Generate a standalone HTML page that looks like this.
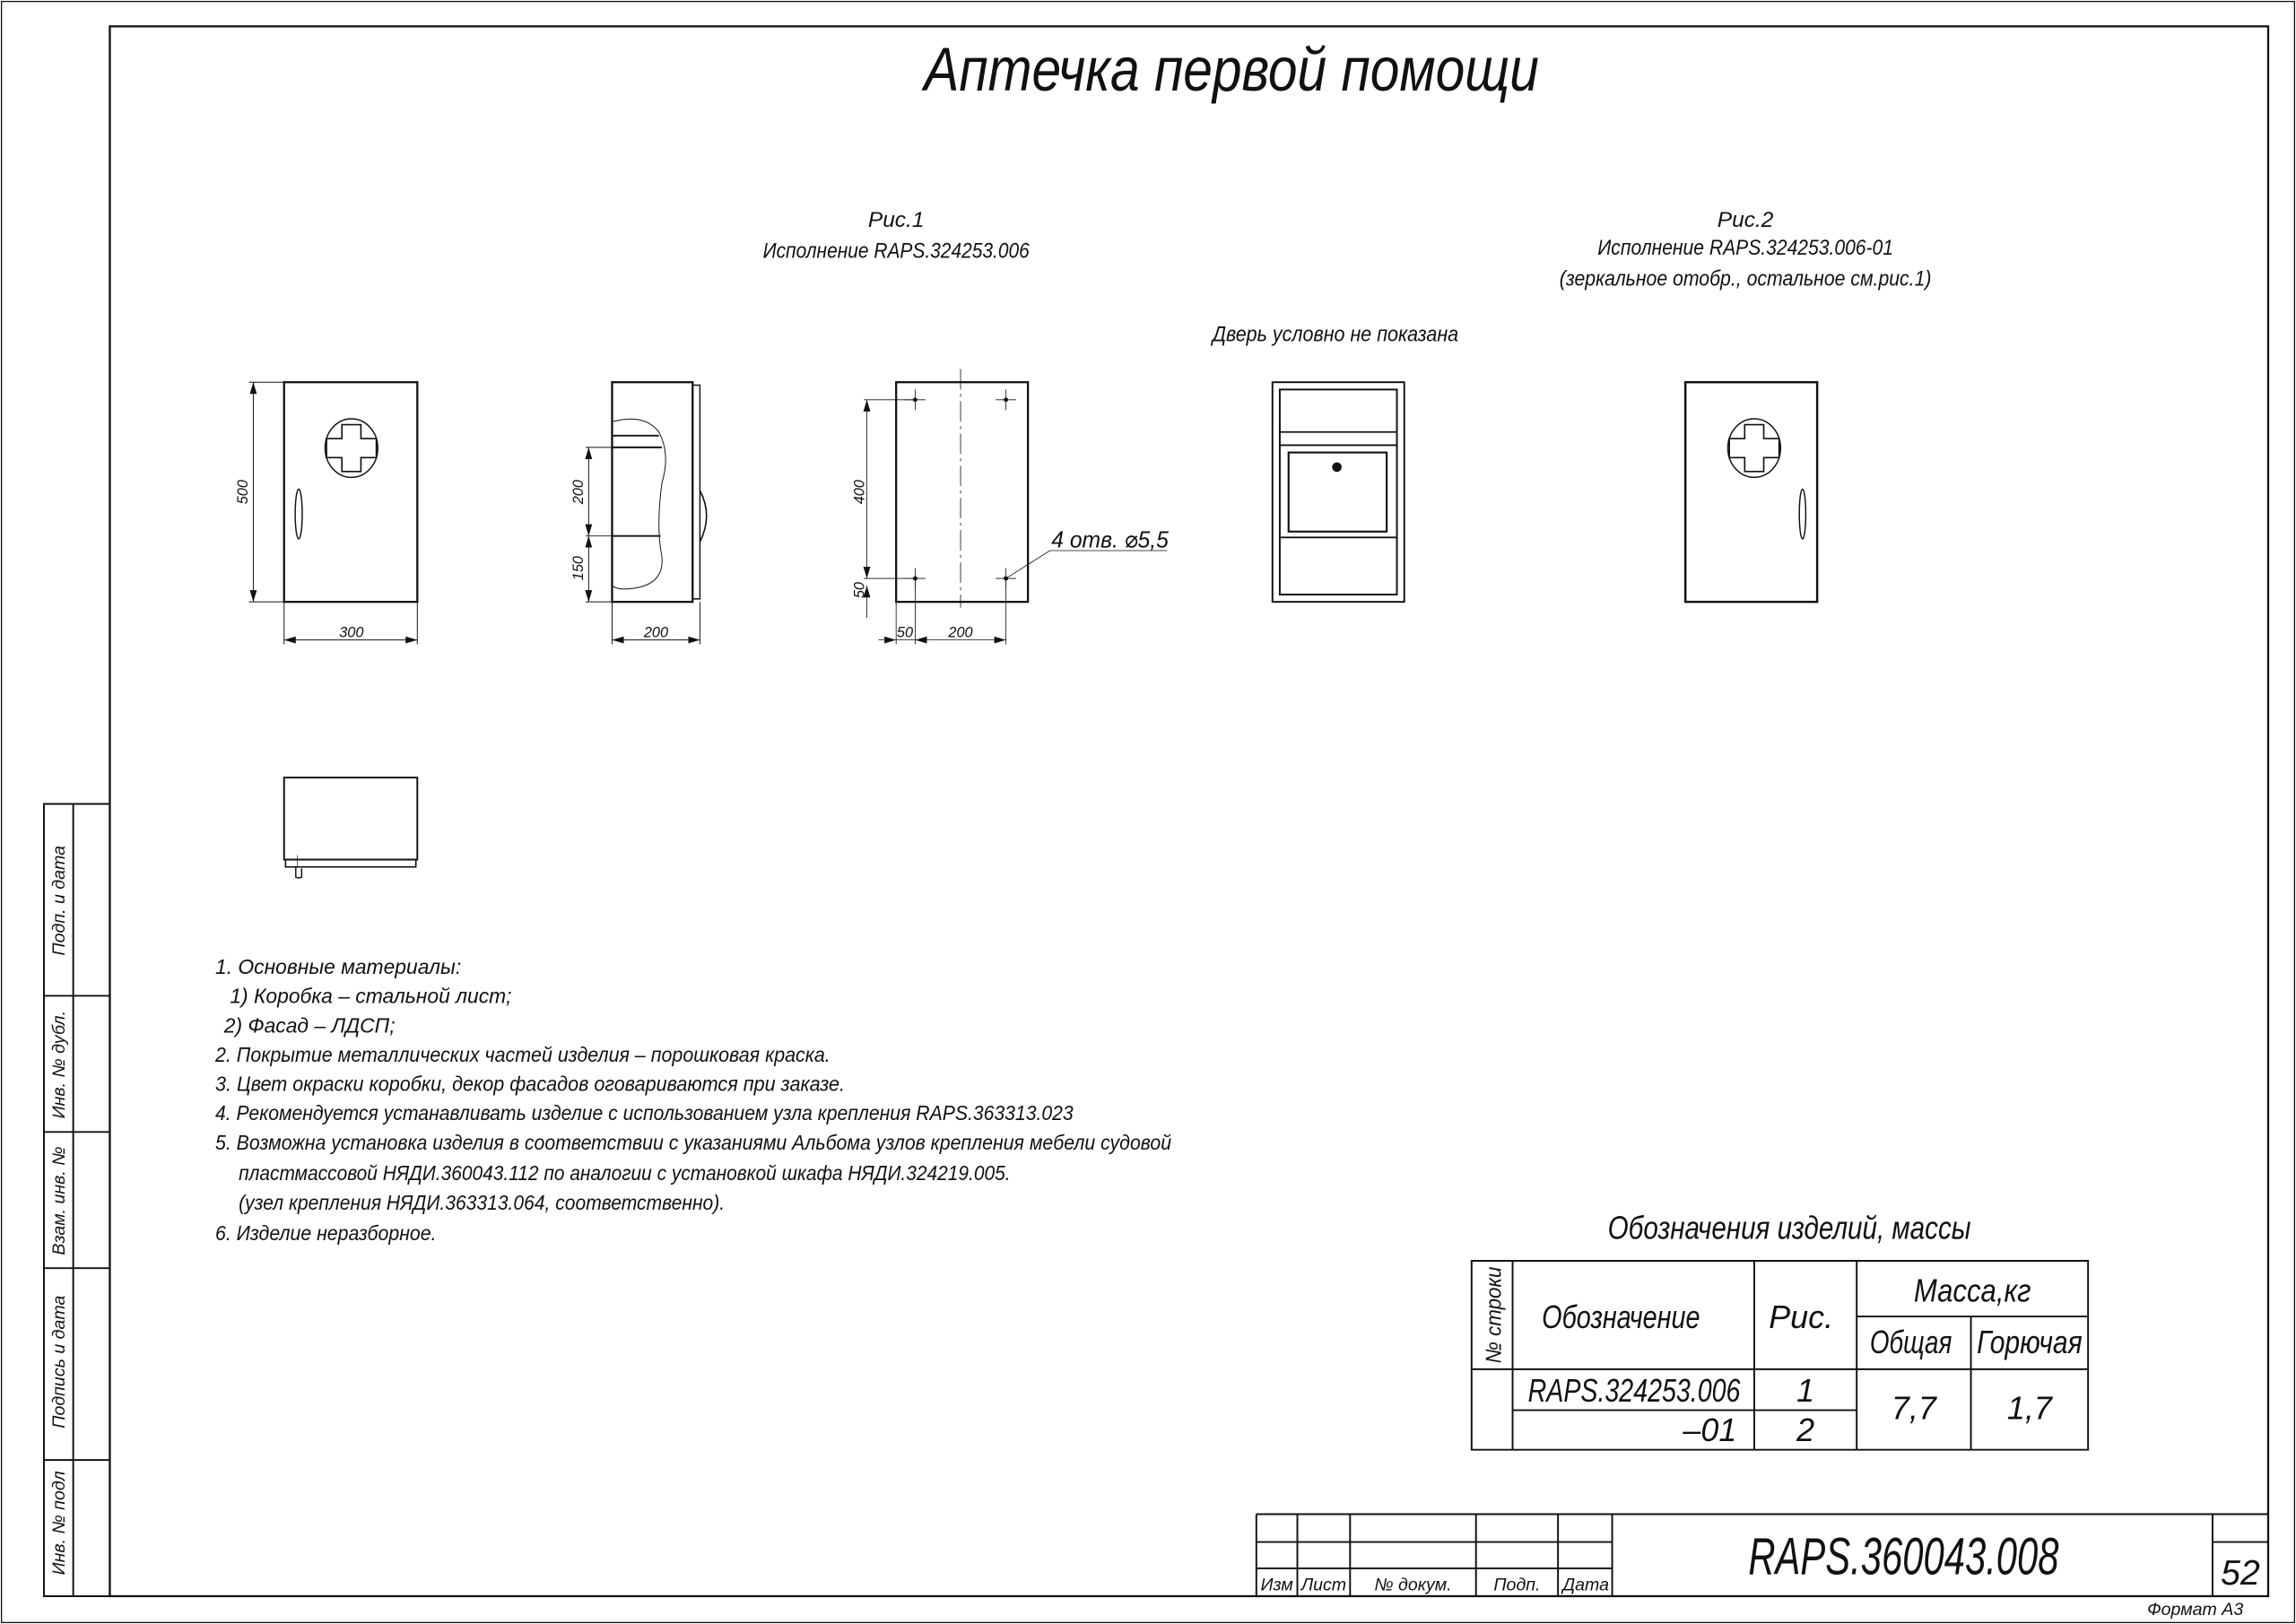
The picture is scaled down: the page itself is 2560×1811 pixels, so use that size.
<!DOCTYPE html>
<html><head><meta charset="utf-8"><style>
html,body{margin:0;padding:0;background:#fff;}
svg{display:block;}
text{font-family:"Liberation Sans Narrow","Liberation Sans","DejaVu Sans",sans-serif;font-style:italic;fill:#111;}
</style></head><body>
<svg width="2560" height="1811" viewBox="0 0 1568 1109" preserveAspectRatio="none" xmlns="http://www.w3.org/2000/svg">
<defs>
<marker id="a" viewBox="0 0 10 6" refX="10" refY="3" markerWidth="8" markerHeight="5" orient="auto-start-reverse" markerUnits="userSpaceOnUse"><path d="M0,0L10,3L0,6z" fill="#111"/></marker>
</defs>
<g fill="none" stroke="#111">
<rect x="1" y="1" width="1566" height="1107" stroke-width="0.8"/>
<rect x="75" y="18" width="1474" height="1072" stroke-width="1.4"/>
<path d="M30 549H75V1090H30Z M50 549V1090 M30 680H75 M30 773H75 M30 866H75 M30 997H75" stroke-width="1.2"/>
<path d="M858 1034H1549 M858 1034V1090 M886 1034V1090 M922 1034V1090 M1008 1034V1090 M1064 1034V1090 M1101 1034V1090 M1511 1034V1090 M1511 1053H1549 M858 1053H1101 M858 1071H1101" stroke-width="1.2"/>
<path d="M1005 861H1426V990H1005Z M1033 861V990 M1198 861V990 M1268 861V990 M1346 899V990 M1268 899H1426 M1005 935H1426 M1033 963H1268" stroke-width="1.2"/>

<rect x="194" y="261" width="91" height="150" stroke-width="1.4"/>
<ellipse cx="240" cy="306" rx="18" ry="20" stroke-width="0.9"/>
<path d="M233.5 290H246.5V299.5H257V312.5H246.5V322H233.5V312.5H223V299.5H233.5Z" stroke-width="1"/>
<ellipse cx="204" cy="351" rx="2.4" ry="17" stroke-width="0.9"/>
<g stroke-width="0.6">
<path d="M194 261H170 M194 411H170 M194 411V440 M285 411V440"/>
<path d="M173 261V411" marker-start="url(#a)" marker-end="url(#a)"/>
<path d="M194 437H285" marker-start="url(#a)" marker-end="url(#a)"/>
</g>

<rect x="418" y="261" width="55" height="150" stroke-width="1.4"/>
<path d="M473 263H478V409H473" stroke-width="0.9"/>
<path d="M478 335Q487 352 478 370" stroke-width="1"/>
<path d="M418 288Q440 282 450 295Q458 310 452 330Q448 360 452 380Q454 400 430 402Q422 403 418 400" stroke-width="0.6"/>
<path d="M418 297.5H450 M418 305.5H452 M418 366H451" stroke-width="1.2"/>
<g stroke-width="0.6">
<path d="M418 305.5H400 M418 366H400 M418 411H400 M418 411V440 M478 411V440"/>
<path d="M402 305.5V366" marker-start="url(#a)" marker-end="url(#a)"/>
<path d="M402 366V411" marker-start="url(#a)" marker-end="url(#a)"/>
<path d="M418 437H478" marker-start="url(#a)" marker-end="url(#a)"/>
</g>

<rect x="612" y="261" width="90" height="150" stroke-width="1.4"/>
<path d="M656 252V415" stroke-width="0.5" stroke-dasharray="14 3 2 3"/>
<g stroke-width="0.5">
<path d="M618 273H632 M625 266V280 M680 273H694 M687 266V280 M618 395H632 M625 388V402 M680 395H694 M687 388V402"/>
<path d="M625 273H590 M625 395H590 M612 411V440 M625 395V440 M687 395V440"/>
<path d="M592 273V395" marker-start="url(#a)" marker-end="url(#a)"/>
<path d="M592 411V400" marker-end="url(#a)"/>
<path d="M592 422V411"/>
<path d="M600 437H612" marker-end="url(#a)"/>
<path d="M625 437H687" marker-start="url(#a)" marker-end="url(#a)"/>
<path d="M612 437H625"/>
<path d="M687 395L717 376H797"/>
</g>
<g fill="#111" stroke="none"><circle cx="625" cy="273" r="1.5"/><circle cx="687" cy="273" r="1.5"/><circle cx="625" cy="395" r="1.5"/><circle cx="687" cy="395" r="1.5"/></g>

<rect x="869" y="261" width="90" height="150" stroke-width="1.2"/>
<rect x="874" y="266" width="80" height="140" stroke-width="1.2"/>
<path d="M874 295H954 M874 304H954 M874 367H954" stroke-width="1.1"/>
<rect x="880" y="309" width="67" height="54" stroke-width="1.3"/>
<circle cx="913" cy="319" r="3" fill="#111" stroke-width="0.5"/>

<rect x="1151" y="261" width="90" height="150" stroke-width="1.5"/>
<ellipse cx="1198" cy="306" rx="18" ry="20" stroke-width="0.9"/>
<path d="M1191.5 290H1204.5V299.5H1215V312.5H1204.5V322H1191.5V312.5H1181V299.5H1191.5Z" stroke-width="1"/>
<ellipse cx="1231" cy="351" rx="2.2" ry="17" stroke-width="0.9"/>

<rect x="194" y="531" width="91" height="56" stroke-width="1.2"/>
<rect x="195" y="587" width="89" height="5" stroke-width="1"/>
<path d="M202 592V599Q204 600 206 599V593" stroke-width="0.9"/>
<path d="M203 584V592" stroke-width="0.4"/>
</g>

<text x="841" y="62" font-size="42" text-anchor="middle" textLength="420" lengthAdjust="spacingAndGlyphs">Аптечка первой помощи</text>
<g font-size="15" text-anchor="middle">
<text x="612" y="155">Рис.1</text>
<text x="612" y="176" textLength="182" lengthAdjust="spacingAndGlyphs">Исполнение RAPS.324253.006</text>
<text x="1192" y="155">Рис.2</text>
<text x="1192" y="174" textLength="202" lengthAdjust="spacingAndGlyphs">Исполнение RAPS.324253.006-01</text>
<text x="1192" y="195" textLength="254" lengthAdjust="spacingAndGlyphs">(зеркальное отобр., остальное см.рис.1)</text>
<text x="912" y="233" textLength="168" lengthAdjust="spacingAndGlyphs">Дверь условно не показана</text>
</g>
<g font-size="10" text-anchor="middle">
<text x="240" y="435">300</text>
<text x="448" y="435">200</text>
<text x="618" y="435">50</text>
<text x="656" y="435">200</text>
<text transform="translate(169 336) rotate(-90)">500</text>
<text transform="translate(398 336) rotate(-90)">200</text>
<text transform="translate(398 388) rotate(-90)">150</text>
<text transform="translate(590 336) rotate(-90)">400</text>
<text transform="translate(590 403) rotate(-90)">50</text>
</g>
<text x="718" y="374" font-size="16" textLength="80" lengthAdjust="spacingAndGlyphs">4 отв. ⌀5,5</text>

<g font-size="14">
<text x="147" y="665">1.  Основные материалы:</text>
<text x="157" y="685">1) Коробка – стальной лист;</text>
<text x="153" y="705">2) Фасад – ЛДСП;</text>
<text x="147" y="725" textLength="420" lengthAdjust="spacingAndGlyphs">2. Покрытие металлических частей изделия – порошковая краска.</text>
<text x="147" y="745" textLength="430" lengthAdjust="spacingAndGlyphs">3. Цвет окраски коробки, декор фасадов оговариваются при заказе.</text>
<text x="147" y="765" textLength="586" lengthAdjust="spacingAndGlyphs">4. Рекомендуется устанавливать изделие с использованием узла крепления  RAPS.363313.023</text>
<text x="147" y="785" textLength="653" lengthAdjust="spacingAndGlyphs">5. Возможна установка изделия в соответствии с указаниями Альбома узлов крепления мебели судовой</text>
<text x="163" y="806" textLength="527" lengthAdjust="spacingAndGlyphs">пластмассовой НЯДИ.360043.112  по аналогии с установкой шкафа НЯДИ.324219.005.</text>
<text x="163" y="826" textLength="332" lengthAdjust="spacingAndGlyphs">(узел крепления НЯДИ.363313.064,  соответственно).</text>
<text x="147" y="847" textLength="151" lengthAdjust="spacingAndGlyphs">6. Изделие неразборное.</text>
</g>

<text x="1098" y="846" font-size="22" textLength="248" lengthAdjust="spacingAndGlyphs">Обозначения изделий, массы</text>
<g font-size="22" text-anchor="middle">
<text x="1107" y="907" textLength="108" lengthAdjust="spacingAndGlyphs">Обозначение</text>
<text x="1230" y="907">Рис.</text>
<text x="1347" y="889" textLength="80" lengthAdjust="spacingAndGlyphs">Масса,кг</text>
<text x="1305" y="924" textLength="56" lengthAdjust="spacingAndGlyphs">Общая</text>
<text x="1386" y="924" textLength="72" lengthAdjust="spacingAndGlyphs">Горючая</text>
<text x="1116" y="957" textLength="145" lengthAdjust="spacingAndGlyphs">RAPS.324253.006</text>
<text x="1233" y="957">1</text>
<text x="1233" y="984">2</text>
<text x="1307" y="969">7,7</text>
<text x="1386" y="969">1,7</text>
</g>
<text x="1186" y="984" font-size="22" text-anchor="end">–01</text>
<text transform="translate(1025 898) rotate(-90)" font-size="15" text-anchor="middle" textLength="66" lengthAdjust="spacingAndGlyphs">№  строки</text>

<g font-size="12" text-anchor="middle">
<text x="872" y="1086">Изм</text>
<text x="904" y="1086">Лист</text>
<text x="965" y="1086">№ докум.</text>
<text x="1036" y="1086">Подп.</text>
<text x="1083" y="1086">Дата</text>
</g>
<text x="1300" y="1075" font-size="36" text-anchor="middle" textLength="212" lengthAdjust="spacingAndGlyphs">RAPS.360043.008</text>
<text x="1530" y="1082" font-size="24" text-anchor="middle">52</text>
<text x="1532" y="1103" font-size="12" text-anchor="end">Формат А3</text>

<g font-size="12" text-anchor="middle">
<text transform="translate(44 615) rotate(-90)">Подп. и дата</text>
<text transform="translate(44 727) rotate(-90)">Инв. № дубл.</text>
<text transform="translate(44 820) rotate(-90)">Взам. инв. №</text>
<text transform="translate(44 930) rotate(-90)">Подпись и дата</text>
<text transform="translate(44 1040) rotate(-90)">Инв. № подл</text>
</g>
</svg>
</body></html>
